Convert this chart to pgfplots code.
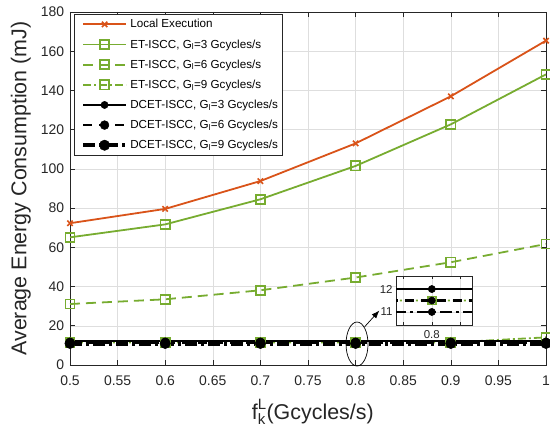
\documentclass[border=0pt]{standalone}
\usepackage{fontspec}
\setmainfont{Liberation Sans}
\usepackage{amsmath}
\usepackage{pgfplots}
\usepackage{pgfplotstable}
\pgfplotsset{compat=1.18}
\usetikzlibrary{arrows.meta}
\definecolor{morange}{rgb}{0.85,0.325,0.098}
\definecolor{mgreen}{rgb}{0.466,0.674,0.188}
\definecolor{axgray}{rgb}{0.15,0.15,0.15}
\definecolor{gridgray}{rgb}{0.87,0.87,0.87}

\pgfplotstableread{
x    local  et3    et6   et9   d3    d6    d9
0.5  72.3   65.1   31.1  11.5  12.0  11.5  11.0
0.6  79.6   71.7   33.5  11.5  12.0  11.5  11.0
0.7  93.8   84.5   38.1  11.5  12.0  11.5  11.0
0.8  113.0  101.5  44.6  11.5  12.0  11.5  11.0
0.9  137.0  122.7  52.4  11.5  12.0  11.5  11.0
1.0  165.4  148.2  61.7  14.1  12.0  11.5  11.0
}\datatable

\pgfplotsset{
  stLocal/.style={color=morange, line width=1.8bp, mark=x, mark size=3.8bp, mark options={solid, line width=1.6bp}},
  stET3/.style={color=mgreen, line width=1.8bp, mark=square, mark size=4.6bp, mark options={solid, line width=1.7bp}},
  stET6/.style={color=mgreen, line width=1.8bp, dash pattern=on 10bp off 6bp, mark=square, mark size=4.6bp, mark options={solid, line width=1.7bp}},
  stET9/.style={color=mgreen, line width=1.8bp, dash pattern=on 8bp off 3bp on 2bp off 3bp, mark=square, mark size=4.6bp, mark options={solid, line width=1.7bp}},
  stD3/.style={color=black, line width=2bp, mark=*, mark size=3.6bp, mark options={solid, line width=0.5bp}},
  stD6/.style={color=black, line width=2.6bp, dash pattern=on 9bp off 7bp, mark=*, mark size=4.4bp, mark options={solid, line width=0.5bp}},
  stD9/.style={color=black, line width=4.5bp, dash pattern=on 12bp off 4bp on 3bp off 4bp, mark=*, mark size=5.2bp, mark options={solid, line width=0.5bp}},
}

\begin{document}
\begin{tikzpicture}
\begin{axis}[
  at={(0,0)}, anchor=south west,
  scale only axis, width=476bp, height=353bp,
  xmin=0.5, xmax=1, ymin=0, ymax=180,
  xtick={0.5,0.55,0.6,0.65,0.7,0.75,0.8,0.85,0.9,0.95,1},
  xticklabels={0.5,0.55,0.6,0.65,0.7,0.75,0.8,0.85,0.9,0.95,1},
  ytick={0,20,40,60,80,100,120,140,160,180},
  xtick pos=both, ytick pos=both,
  xticklabel pos=lower, yticklabel pos=left,
  tick align=inside, major tick length=5bp,
  grid=major, major grid style={gridgray, line width=0.5bp},
  axis line style={axgray, line width=0.6bp},
  tick style={axgray, line width=0.6bp},
  /pgf/number format/assume math mode=true,
  ticklabel style={font=\fontsize{14}{16}\selectfont, text=axgray},
  xticklabel style={yshift=-7.3bp},
  yticklabel style={xshift=-2.3bp},
  label style={font=\fontsize{21.5}{24}\selectfont, text=axgray},
  ylabel style={at={(axis description cs:-0.082,0.5)}, anchor=south, inner sep=0pt},
  xlabel style={at={(axis description cs:0.51,-0.153)}, anchor=base, inner sep=0pt},
  xlabel={$\text{f}_{\text{k}}^{\text{L}}$(Gcycles/s)},
  ylabel={Average Energy Consumption (mJ)},
  clip=false,
  legend image code/.code={\path (0bp,0bp); \draw[mark repeat=2,mark phase=2] plot coordinates {(4.5bp,0bp) (26bp,0bp) (47.5bp,0bp)};},
  legend style={at={(axis description cs:0.0074,0.994)}, anchor=north west,
    draw=axgray, line width=0.6bp, fill=white,
    inner xsep=2.5bp, inner ysep=4bp, row sep=8.2bp,
    font=\fontsize{11.7}{13}\selectfont,
    nodes={inner xsep=2bp, inner ysep=1bp}},
  legend cell align=left,
]
\addplot[stLocal] table[x=x, y=local] {\datatable};
\addlegendentry{Local Execution}
\addplot[stET3] table[x=x, y=et3] {\datatable};
\addlegendentry{ET-ISCC, G$_\text{l}$=3 Gcycles/s}
\addplot[stET6] table[x=x, y=et6] {\datatable};
\addlegendentry{ET-ISCC, G$_\text{l}$=6 Gcycles/s}
\addplot[stET9] table[x=x, y=et9] {\datatable};
\addlegendentry{ET-ISCC, G$_\text{l}$=9 Gcycles/s}
\addplot[stD3] table[x=x, y=d3] {\datatable};
\addlegendentry{DCET-ISCC, G$_\text{l}$=3 Gcycles/s}
\addplot[stD6] table[x=x, y=d6] {\datatable};
\addlegendentry{DCET-ISCC, G$_\text{l}$=6 Gcycles/s}
\addplot[stD9] table[x=x, y=d9] {\datatable};
\addlegendentry{DCET-ISCC, G$_\text{l}$=9 Gcycles/s}
\draw[black, line width=0.7bp] (axis cs:0.8015,10.7) ellipse [x radius=11bp, y radius=22bp];
\draw[black, line width=0.7bp, -{Latex[length=8bp,width=6bp]}] (axis cs:0.8095,19.5) -- (axis cs:0.8250,27.8);
\end{axis}

\begin{axis}[
  at={(326bp,40bp)}, anchor=south west,
  scale only axis, width=76bp, height=49bp,
  xmin=0.78725, xmax=0.8143, ymin=10.43, ymax=12.57,
  xtick={0.79,0.8,0.81}, xticklabels={,0.8,},
  ytick={11,12},
  tick align=inside, major tick length=3bp,
  xtick pos=both, ytick pos=both,
  xticklabel pos=lower, yticklabel pos=left,
  grid=major, major grid style={gridgray, line width=0.5bp},
  axis line style={axgray, line width=0.6bp},
  tick style={axgray, line width=0.6bp},
  axis background/.style={fill=white},
  /pgf/number format/assume math mode=true,
  ticklabel style={font=\fontsize{11.5}{13}\selectfont, text=axgray},
  xticklabel style={yshift=-2bp},
  clip marker paths=true,
]
\addplot[stET9, mark size=4bp] table[x=x, y=et9] {\datatable};
\addplot[stD3, line width=1.7bp, mark size=3.6bp] table[x=x, y=d3] {\datatable};
\addplot[stD6, line width=2.6bp, mark size=3.6bp] table[x=x, y=d6] {\datatable};
\addplot[stD9, line width=2.7bp, mark size=3.6bp] table[x=x, y=d9] {\datatable};
\end{axis}
\pgfresetboundingbox
\path (-70bp,-69bp) rectangle (480bp,365bp);
\end{tikzpicture}
\end{document}
